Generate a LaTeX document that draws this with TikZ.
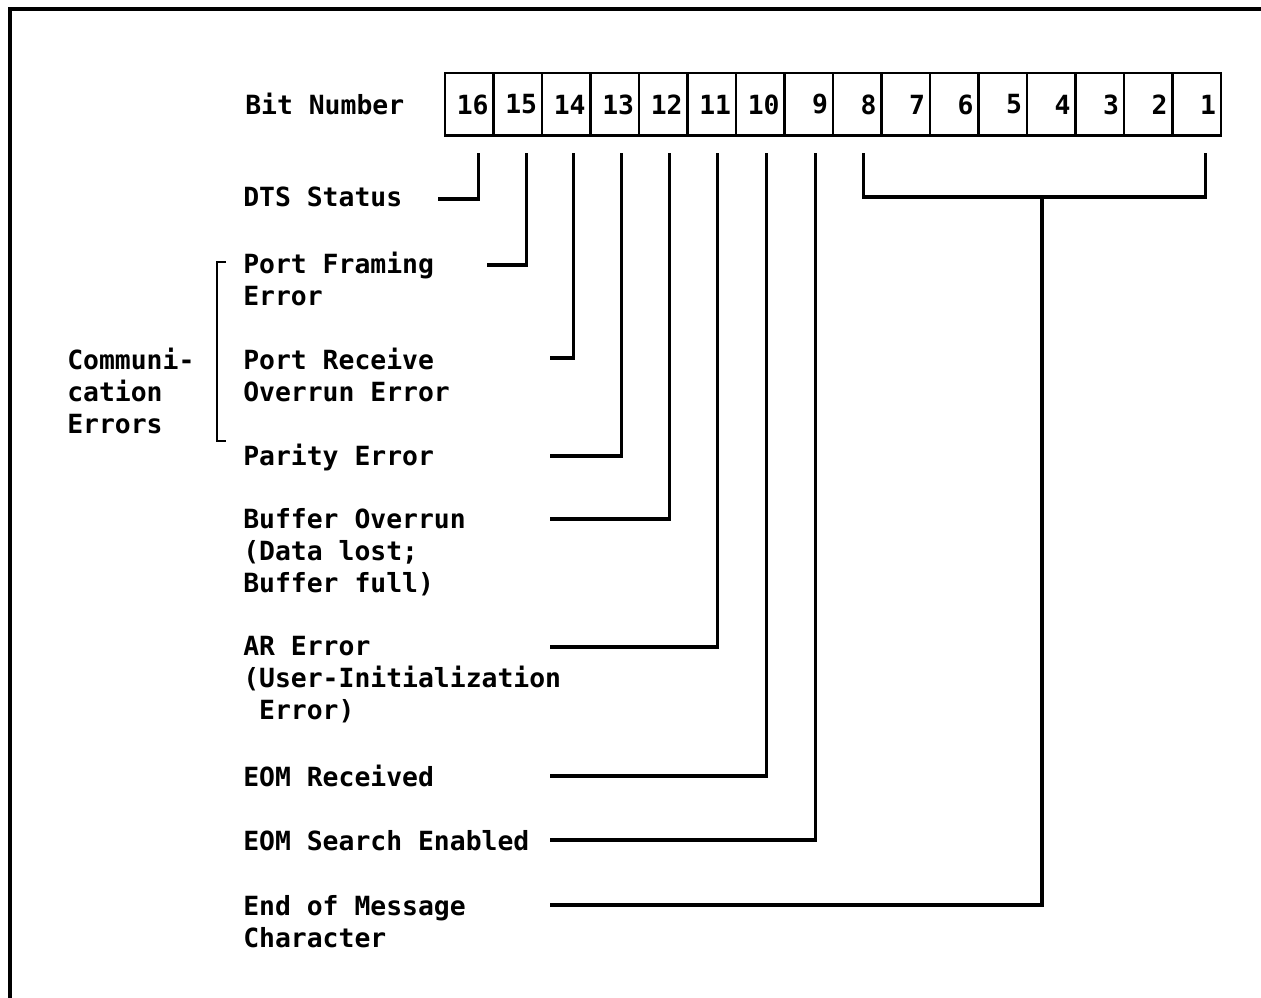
\documentclass[tikz,border=0pt]{standalone}
\usepackage{fontspec}
\setmonofont{DejaVu Sans Mono}
\usetikzlibrary{positioning, calc}

\begin{document}
\begin{tikzpicture}[
   x=0.75pt, y=-0.75pt,
   every node/.style={font=\ttfamily\bfseries\fontsize{19.8}{24}\selectfont},
   cell/.style={draw, line width=2.2pt, minimum width=36.4pt, minimum height=47.2pt,
         text width=29pt, align=right, inner xsep=3.7pt, inner ysep=0pt},
   lbl/.style={anchor=north west, align=left, inner sep=0pt},
   lead/.style={line width=2.3pt},
  ]
  \useasboundingbox (0,0) rectangle (1261,998);
  % frame, cut at the right and at the bottom
  \draw[line width=2.4pt] (10,998) -- (10,9) -- (1261,9);

  % register
  \foreach \b [count=\k from 0] in {16,15,...,1}
    \node[cell] (b\b) at (469.25+48.5*\k,104.5) {\b};
  \node[lbl, anchor=west] (bitno) at (245,104) {Bit Number};

  % bit descriptions
  \node[lbl] (dts)  at (243,187) {DTS Status};
  \node[lbl] (pfe)  at (243,252) {Port Framing\\Error};
  \node[lbl] (pro)  at (243,348) {Port Receive\\Overrun Error};
  \node[lbl] (par)  at (243,444) {Parity Error};
  \node[lbl] (bov)  at (243,508) {Buffer Overrun\\(Data lost;\\Buffer full)};
  \node[lbl] (are)  at (243,636) {AR Error\\(User-Initialization\\~Error)};
  \node[lbl] (eomr) at (243,765) {EOM Received};
  \node[lbl] (eoms) at (243,830) {EOM Search Enabled};
  \node[lbl] (eomc) at (243,895) {End of Message\\Character};
  \node[lbl] (comm) at (67,348) {Communi-\\cation\\Errors};

  % line starts
  \coordinate (s16) at (438,199);
  \coordinate (s15) at (487,265);
  \coordinate (s14) at (550,358);
  \coordinate (s13) at (550,456);
  \coordinate (s12) at (550,519);
  \coordinate (s11) at (550,647);
  \coordinate (s10) at (550,776);
  \coordinate (s9)  at (550,840);
  \coordinate (s8)  at (550,905);

  \draw[lead] ($(b16.south)+(9,16)$) |- (s16);
  \draw[lead] ($(b15.south)+(9,16)$) |- (s15);
  \draw[lead] ($(b14.south)+(7,16)$) |- (s14);
  \draw[lead] ($(b13.south)+(7,16)$) |- (s13);
  \draw[lead] ($(b12.south)+(6,16)$) |- (s12);
  \draw[lead] ($(b11.south)+(6,16)$) |- (s11);
  \draw[lead] ($(b10.south)+(6,16)$) |- (s10);
  \draw[lead] ($(b9.south)+(7,16)$) |- (s9);

  % bits 8..1 bracket
  \draw[lead] ($(b8.south)+(6,16)$) |- (1042,197) -| ($(b1.south)+(9,16)$);
  \draw[lead] (1042,197) |- (s8);

  % communication errors bracket
  \draw[line width=1.8pt] (226,262) -| (217,441) -- (226,441);
\end{tikzpicture}
\end{document}
